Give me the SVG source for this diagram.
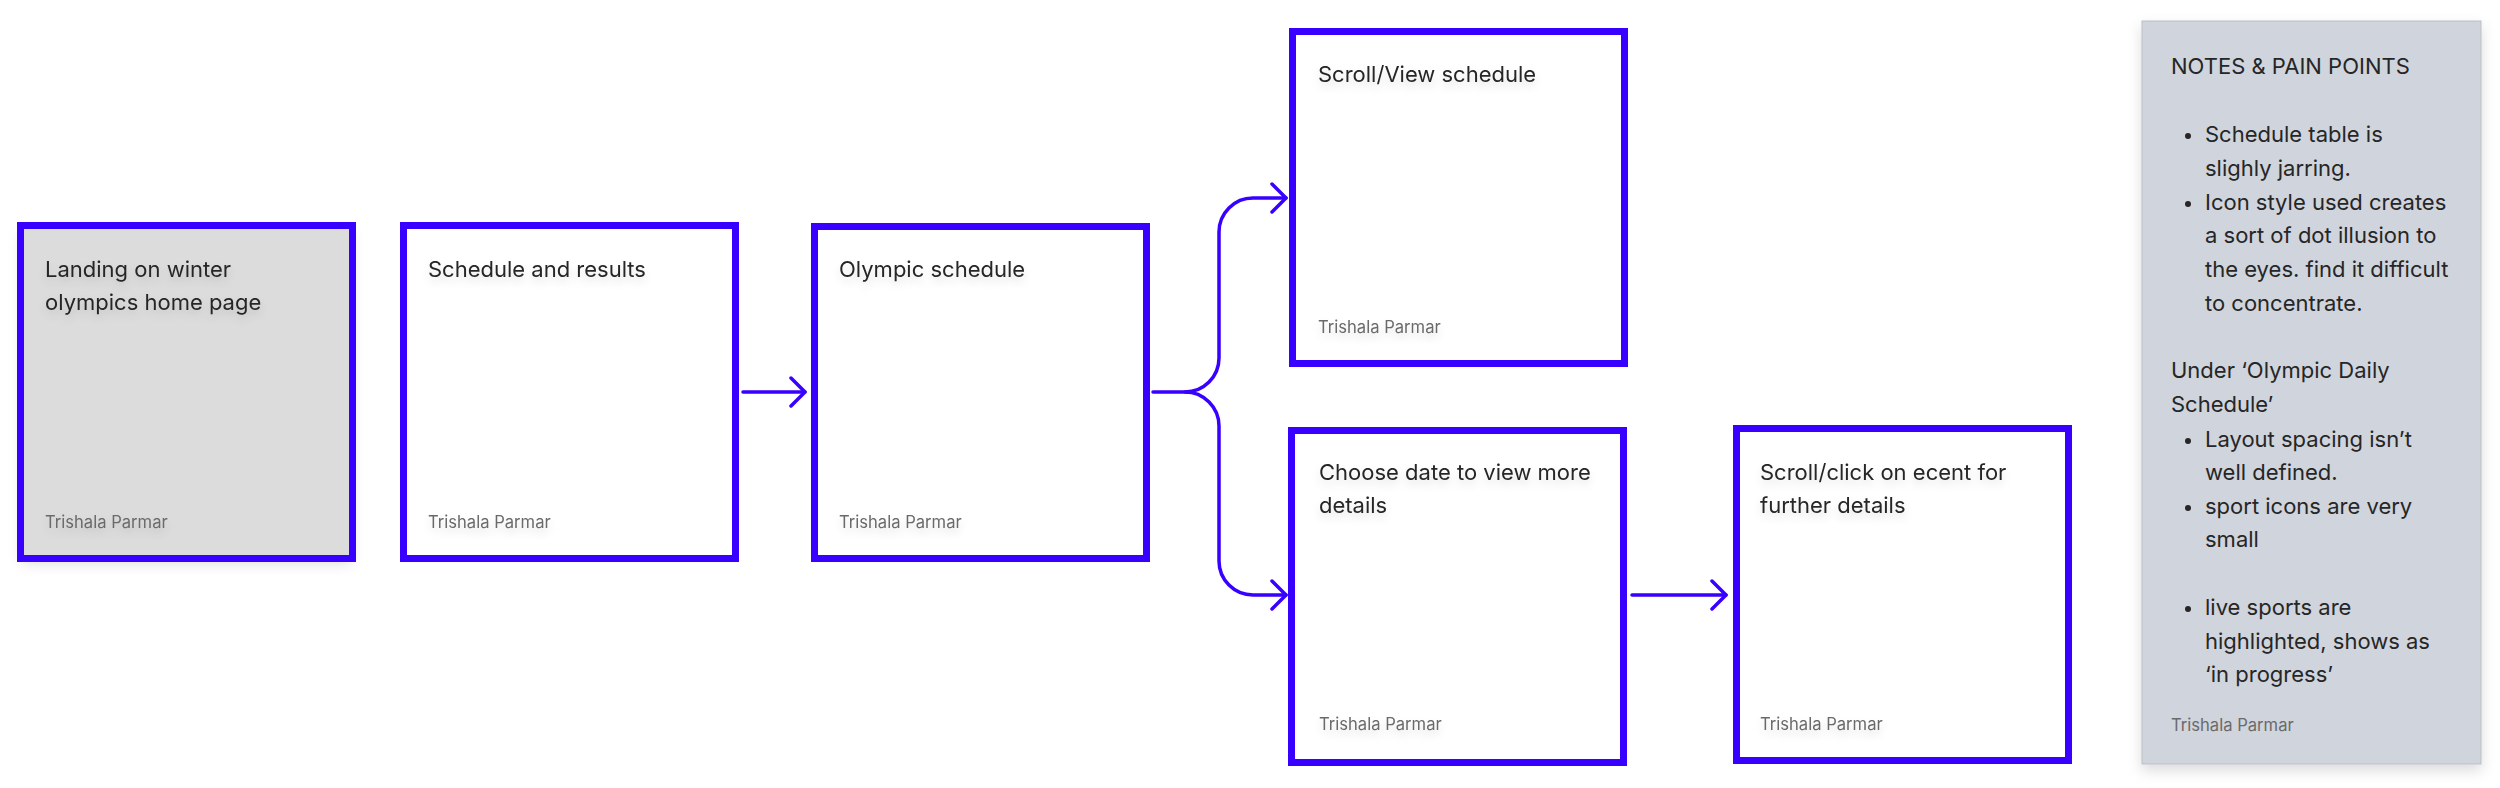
<svg xmlns="http://www.w3.org/2000/svg" width="2500" height="788" viewBox="0 0 2500 788">
<defs>
<style>
.box{fill:none;stroke:#3700ff;stroke-width:7}
.t{font-family:Inter,"Noto Sans",sans-serif;font-size:22px;fill:#262626}
.f{font-family:Inter,"Noto Sans",sans-serif;font-size:16.6px;fill:#6a6a6a}
.c{fill:none;stroke:#3700ff;stroke-width:3.5;stroke-linecap:round;stroke-linejoin:round}
.ts{filter:url(#tsh)}
</style>
<filter id="sh" x="-10%" y="-10%" width="120%" height="130%">
<feDropShadow dx="0" dy="6" stdDeviation="7" flood-color="#000" flood-opacity="0.14"/>
</filter>
<filter id="tsh" x="-10%" y="-50%" width="120%" height="250%">
<feDropShadow dx="0" dy="5" stdDeviation="4" flood-color="#000" flood-opacity="0.12"/>
</filter>
<marker id="ah" viewBox="-16 -16 20 32" markerWidth="20" markerHeight="32" refX="0" refY="0" orient="auto" markerUnits="userSpaceOnUse">
<path d="M-14,-14 L0,0 L-14,14" fill="none" stroke="#3700ff" stroke-width="3.5" stroke-linecap="round" stroke-linejoin="round"/>
</marker>
</defs>
<rect width="2500" height="788" fill="#ffffff"/>

<g id="connectors">
<path class="c" d="M743,392 L805,392" marker-end="url(#ah)"/>
<path class="c" d="M1153,392 L1185,392 A34,34 0 0 0 1219,358 L1219,232 A34,34 0 0 1 1253,198 L1286,198" marker-end="url(#ah)"/>
<path class="c" d="M1185,392 A34,34 0 0 1 1219,426 L1219,561 A34,34 0 0 0 1253,595 L1286,595" marker-end="url(#ah)"/>
<path class="c" d="M1632,595 L1726,595" marker-end="url(#ah)"/>
</g>

<g id="node1">
<rect x="22" y="227" width="329" height="330" fill="#dcdcdc" filter="url(#sh)"/>
<rect class="box" x="20.5" y="225.5" width="332" height="333"/>
<text class="t ts" x="45" y="277">Landing on winter</text>
<text class="t ts" x="45" y="310">olympics home page</text>
<text class="f ts" x="45" y="528">Trishala Parmar</text>
</g>

<g id="node2">
<rect x="405" y="227" width="329" height="330" fill="#ffffff"/>
<rect class="box" x="403.5" y="225.5" width="332" height="333"/>
<text class="t ts" x="428" y="277">Schedule and results</text>
<text class="f ts" x="428" y="528">Trishala Parmar</text>
</g>

<g id="node3">
<rect x="816" y="227" width="330" height="330" fill="#ffffff"/>
<rect class="box" x="814.5" y="226.5" width="332" height="332"/>
<text class="t ts" x="839" y="277">Olympic schedule</text>
<text class="f ts" x="839" y="528">Trishala Parmar</text>
</g>

<g id="node4">
<rect x="1294" y="33" width="330" height="330" fill="#ffffff"/>
<rect class="box" x="1292.5" y="31.5" width="332" height="332"/>
<text class="t ts" x="1318" y="82">Scroll/View schedule</text>
<text class="f ts" x="1318" y="333">Trishala Parmar</text>
</g>

<g id="node5">
<rect x="1293" y="432" width="330" height="330" fill="#ffffff"/>
<rect class="box" x="1291.5" y="430.5" width="332" height="332"/>
<text class="t ts" x="1319" y="480">Choose date to view more</text>
<text class="t ts" x="1319" y="513">details</text>
<text class="f ts" x="1319" y="730">Trishala Parmar</text>
</g>

<g id="node6">
<rect x="1738" y="430" width="330" height="330" fill="#ffffff"/>
<rect class="box" x="1736.5" y="428.5" width="332" height="332"/>
<text class="t ts" x="1760" y="480">Scroll/click on ecent for</text>
<text class="t ts" x="1760" y="513">further details</text>
<text class="f ts" x="1760" y="730">Trishala Parmar</text>
</g>

<g id="notes">
<rect x="2142" y="21" width="339" height="743" fill="#d0d4dc" stroke="#babec5" stroke-width="1" filter="url(#sh)"/>
<text class="t" x="2171" y="74">NOTES &amp; PAIN POINTS</text>
<g class="t">
<circle cx="2188" cy="136" r="3" fill="#262626"/>
<text class="t" x="2205" y="142">Schedule table is</text>
<text class="t" x="2205" y="176">slighly jarring.</text>
<circle cx="2188" cy="204" r="3" fill="#262626"/>
<text class="t" x="2205" y="210">Icon style used creates</text>
<text class="t" x="2205" y="243">a sort of dot illusion to</text>
<text class="t" x="2205" y="277">the eyes. find it difficult</text>
<text class="t" x="2205" y="311">to concentrate.</text>
<text class="t" x="2171" y="378">Under ‘Olympic Daily</text>
<text class="t" x="2171" y="412">Schedule’</text>
<circle cx="2188" cy="441" r="3" fill="#262626"/>
<text class="t" x="2205" y="447">Layout spacing isn’t</text>
<text class="t" x="2205" y="480">well defined.</text>
<circle cx="2188" cy="508" r="3" fill="#262626"/>
<text class="t" x="2205" y="514">sport icons are very</text>
<text class="t" x="2205" y="547">small</text>
<circle cx="2188" cy="609" r="3" fill="#262626"/>
<text class="t" x="2205" y="615">live sports are</text>
<text class="t" x="2205" y="649">highlighted, shows as</text>
<text class="t" x="2205" y="682">‘in progress’</text>
</g>
<text class="f" x="2171" y="731">Trishala Parmar</text>
</g>
</svg>
